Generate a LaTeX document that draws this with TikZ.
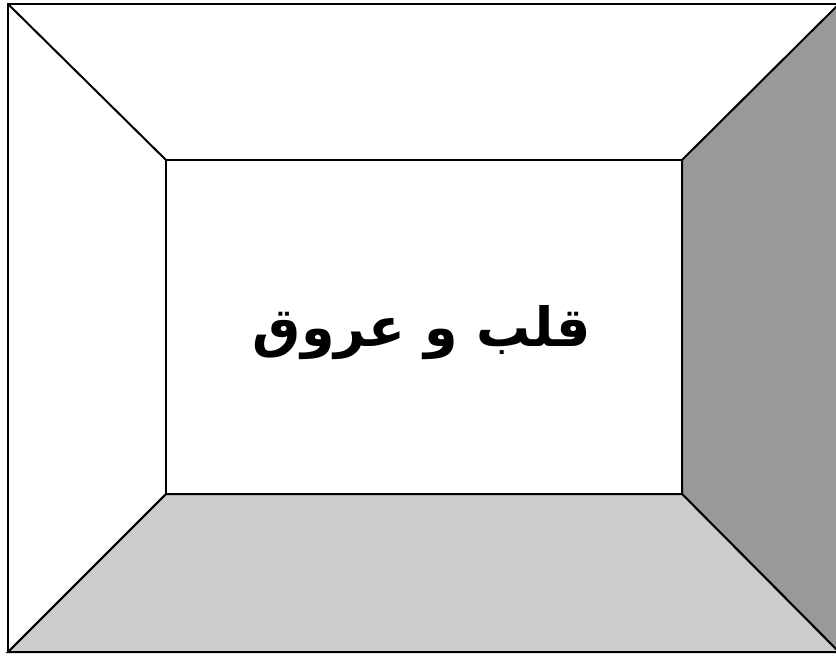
\documentclass[tikz,border=0pt]{standalone}
\usepackage{fontspec}
\newfontfamily\arabicfont[Script=Arabic]{DejaVu Sans}
\TeXXeTstate=1
\begin{document}
\begin{tikzpicture}[x=1pt,y=-1pt,
  wall/.style={draw=black,line width=2pt,line join=miter},
  label/.style={font=\arabicfont\bfseries\fontsize{54}{62}\selectfont,inner sep=0pt}]
\useasboundingbox (0,0) rectangle (836,657);
\fill[white] (0,0) rectangle (836,657);
% outer corners
\coordinate (OTL) at (8,4);
\coordinate (OTR) at (839,4);
\coordinate (OBL) at (8,652);
\coordinate (OBR) at (839,652);
% inner corners
\coordinate (ITL) at (166,160);
\coordinate (ITR) at (682,160);
\coordinate (IBL) at (166,494);
\coordinate (IBR) at (682,494);
% right wall
\filldraw[wall,fill={rgb,255:red,153;green,153;blue,153}] (ITR) -- (OTR) -- (OBR) -- (IBR) -- cycle;
% floor
\filldraw[wall,fill={rgb,255:red,204;green,204;blue,204}] (IBL) -- (IBR) -- (OBR) -- (OBL) -- cycle;
% outer frame and inner rectangle
\draw[wall] (OTL) rectangle (OBR);
\draw[wall] (ITL) rectangle (IBR);
\draw[wall] (OTL) -- (ITL);
\draw[wall] (OBL) -- (IBL);
\node[label] (title) at (422,333) {\beginR قلب و عروق\endR};
\end{tikzpicture}
\end{document}
